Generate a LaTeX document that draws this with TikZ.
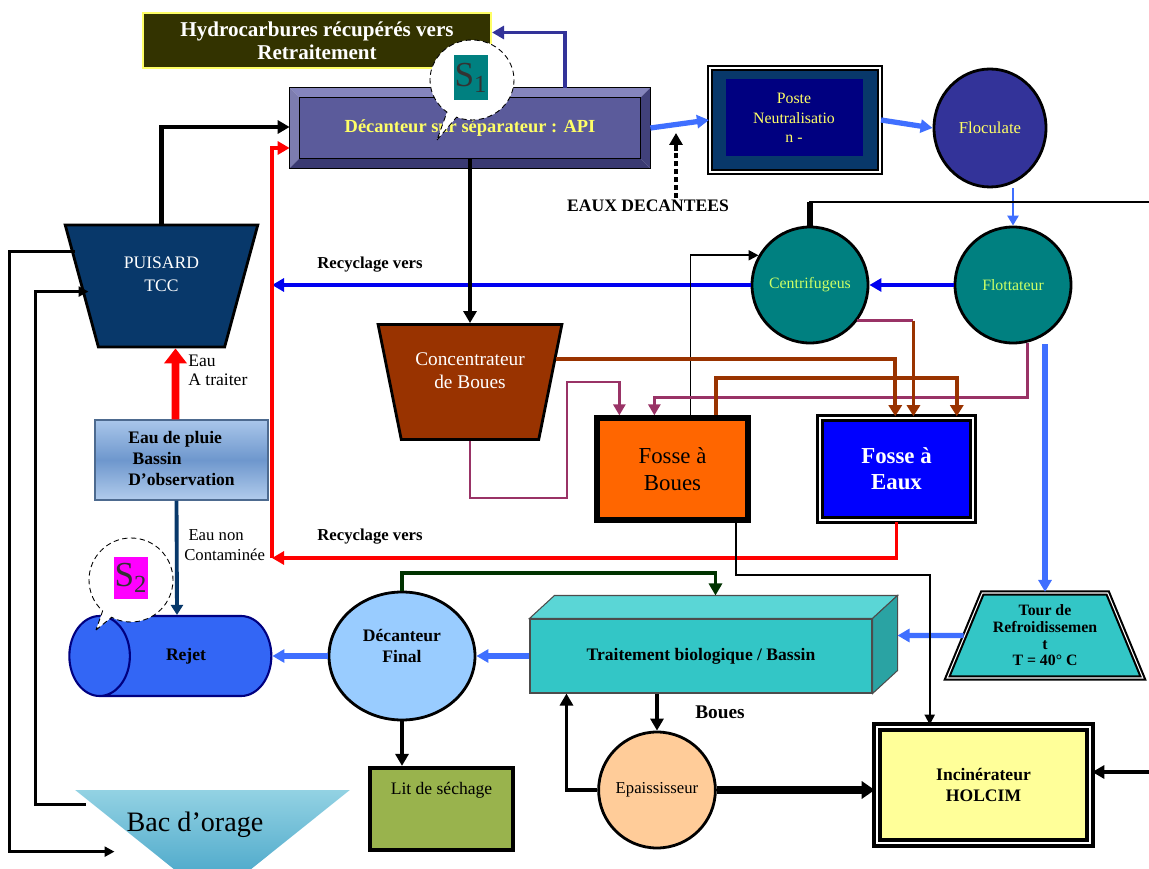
\documentclass[tikz,border=0pt]{standalone}
\usepackage{fontspec}
\setmainfont{Liberation Serif}
\usepackage{tikz}
\usetikzlibrary{positioning,calc,arrows.meta,shapes.geometric,shapes.callouts,shadows}
\definecolor{olivenoir}{HTML}{333300}
\definecolor{jaunepale}{HTML}{FFFF66}
\definecolor{ardoise}{HTML}{5B5B9B}
\definecolor{ardoiseclair}{HTML}{8585BD}
\definecolor{ardoisefonce}{HTML}{3A3A72}
\definecolor{encre}{HTML}{333399}
\definecolor{bleuvif}{HTML}{3F6FFF}
\definecolor{bleupur}{HTML}{0000F0}
\definecolor{nuit}{HTML}{08386A}
\definecolor{marine}{HTML}{000080}
\definecolor{sarcelle}{HTML}{008080}
\definecolor{citron}{HTML}{CCFF66}
\definecolor{brique}{HTML}{993300}
\definecolor{prune}{HTML}{993366}
\definecolor{orangevif}{HTML}{FF6600}
\definecolor{cielA}{HTML}{A9C6EA}
\definecolor{cielB}{HTML}{6E97CD}
\definecolor{rejetbleu}{HTML}{3366F5}
\definecolor{azur}{HTML}{99CCFF}
\definecolor{turquoise}{HTML}{33C6C6}
\definecolor{turqclair}{HTML}{5AD6D6}
\definecolor{turqfonce}{HTML}{2AA3A3}
\definecolor{foret}{HTML}{003300}
\definecolor{peche}{HTML}{FFCC99}
\definecolor{paille}{HTML}{FFFF99}
\definecolor{mousse}{HTML}{99B34D}
\definecolor{lagonA}{HTML}{93D2E3}
\definecolor{lagonB}{HTML}{3B9EC4}
\definecolor{rose}{HTML}{FF00FF}

\begin{document}
\begin{tikzpicture}[x=0.2mm, y=-0.2mm,
  box/.style={inner sep=0pt, align=center},
  disc/.style={ellipse, draw=black, line width=1.6pt, inner sep=0pt, align=center},
  trap/.style={trapezium, trapezium stretches=true, draw=black, inner sep=0pt, align=center},
  bulle/.style={ellipse callout, draw=black, densely dashed, fill=white, line width=0.5pt},
  etiq/.style={inner sep=1pt, font=\bfseries\fontsize{9.5}{11}\selectfont},
  tip/.style={-{Triangle[length=2.4mm,width=2.6mm]}},
  lb/.style={tip, line width=3pt, bleuvif},
  db/.style={tip, line width=2.6pt, bleupur},
  noir/.style={tip, line width=2.2pt, black},
  fin/.style={-{Triangle[length=2mm,width=2mm]}, line width=1.1pt, black},
  rouge/.style={tip, line width=2.2pt, red},
  violet/.style={-{Triangle[length=2.2mm,width=2.4mm]}, line width=1.6pt, prune},
  brun/.style={-{Triangle[length=2.2mm,width=2.6mm]}, line width=2.2pt, brique},
]
\useasboundingbox (0,0) rectangle (1149,869);

% --- top row
\node[box, fill=olivenoir, draw=jaunepale, line width=1.2pt, minimum width=69.6mm, minimum height=11mm,
      text=white, font=\bfseries\fontsize{12}{13}\selectfont] (hydro) at (317,40.5)
   {Hydrocarbures récupérés vers\\Retraitement};
\node[box, fill=ardoise, minimum width=68mm, minimum height=12mm, text=jaunepale,
      font=\bfseries\fontsize{10.5}{12}\selectfont] (api) at (470,128)
   {Décanteur sur séparateur : API};
\fill[ardoiseclair] ($(api.north west)+(-10,-10)$) -- ($(api.north east)+(10,-10)$) -- (api.north east) -- (api.north west) -- cycle;
\fill[ardoise!80!white] ($(api.north west)+(-10,-10)$) -- (api.north west) -- (api.south west) -- ($(api.south west)+(-10,10)$) -- cycle;
\fill[ardoisefonce] ($(api.south west)+(-10,10)$) -- (api.south west) -- (api.south east) -- ($(api.south east)+(10,10)$) -- cycle;
\fill[ardoisefonce!80!ardoise] ($(api.north east)+(10,-10)$) -- (api.north east) -- (api.south east) -- ($(api.south east)+(10,10)$) -- cycle;
\draw[black, line width=0.8pt] ($(api.north west)+(-10,-10)$) rectangle ($(api.south east)+(10,10)$);
\draw[black, line width=0.5pt] (api.north west) rectangle (api.south east);

\node[box, fill=nuit, draw=black, line width=1.2pt, double=white, double distance=0.6pt,
      minimum width=34mm, minimum height=20.8mm] (poste) at (795,120) {};
\node[box, fill=marine, minimum width=27.4mm, minimum height=15.4mm, text=jaunepale,
      font=\fontsize{9}{11}\selectfont] (postein) at (794,118) {Poste\\Neutralisatio\\n -};
\node[disc, fill=encre, minimum width=22.4mm, minimum height=23.6mm, text=jaunepale,
      font=\fontsize{9.5}{11}\selectfont] (floc) at (990,128) {Floculate};

\node[etiq, font=\bfseries\fontsize{10}{11}\selectfont] (eaux) at (648,206) {EAUX DECANTEES};

% --- middle
\node[disc, fill=sarcelle, minimum size=23.2mm, text=citron, font=\fontsize{9}{11}\selectfont] (centri) at (810,285) {Centrifugeus};
\node[disc, fill=sarcelle, minimum size=23.2mm, text=citron, font=\fontsize{9}{11}\selectfont] (flot) at (1013,285) {Flottateur};

\node[trap, shape border rotate=180, trapezium angle=71, fill=nuit, line width=1.6pt,
      minimum width=38.6mm, minimum height=24.4mm, text=white, font=\fontsize{10}{13}\selectfont] (puis) at (161.5,286)
   {PUISARD\\TCC\\~};
\node[trap, shape border rotate=180, trapezium angle=72.5, fill=brique, line width=1.6pt,
      minimum width=36.8mm, minimum height=23mm, text=white, font=\fontsize{11}{13}\selectfont] (conc) at (470,382)
   {Concentrateur\\de Boues\\~};

\node[box, fill=orangevif, draw=black, line width=3pt, minimum width=30.2mm, minimum height=20.4mm,
      font=\fontsize{13}{15}\selectfont] (fb) at (672.5,469) {Fosse à\\Boues};
\node[box, fill=blue, draw=black, line width=2pt, double=white, double distance=0.6pt, minimum width=30.6mm,
      minimum height=20.4mm, text=white, font=\bfseries\fontsize{13}{15}\selectfont] (fe) at (896.5,469) {Fosse à\\Eaux};

\node[box, top color=cielA, bottom color=cielA!90!white, middle color=cielB, draw=cielB!70!black, line width=0.6pt,
      minimum width=34.6mm, minimum height=16mm, font=\bfseries\fontsize{10}{12}\selectfont] (ep) at (181.5,460)
   {\begin{tabular}{@{}l@{}}Eau de pluie\\ \ Bassin\\ D'observation\end{tabular}};

\node[etiq] (recyclA) at (370,265) {Recyclage vers};
\node[etiq] (recyclB) at (370,537) {Recyclage vers};
\node[inner sep=0pt, anchor=west, align=left, font=\fontsize{10}{11}\selectfont] (aTraiter) at (188,370) {Eau\\ A traiter};
\node[inner sep=0pt, anchor=west, align=left, font=\fontsize{9.5}{11}\selectfont] (nonCont) at (184,545) {\ Eau non\\Contaminée};

% --- bottom
\node[cylinder, shape border rotate=180, aspect=3.8, draw=marine, line width=1.2pt, cylinder uses custom fill,
      cylinder body fill=rejetbleu, cylinder end fill=rejetbleu, minimum width=16mm, minimum height=40.4mm,
      inner sep=0pt, font=\bfseries\fontsize{10}{12}\selectfont] (rejet) at (186,656) {Rejet};
\node[disc, fill=azur, minimum width=29.2mm, minimum height=25.6mm, font=\bfseries\fontsize{10}{12}\selectfont] (decf) at (402,656)
   {Décanteur\\Final\\~};
\node[box, fill=turquoise, draw=black!70, line width=.6pt, minimum width=68.4mm, minimum height=14.8mm,
      font=\bfseries\fontsize{10}{12}\selectfont] (trait) at (701,656) {Traitement biologique / Bassin};
\filldraw[fill=turqclair, draw=black!70, line width=.6pt] (trait.north west) -- ++(25,-23) -- ($(trait.north east)+(25,-23)$) -- (trait.north east) -- cycle;
\filldraw[fill=turqfonce, draw=black!70, line width=.6pt] (trait.north east) -- ++(25,-23) -- ($(trait.south east)+(25,-23)$) -- (trait.south east) -- cycle;
\node[trap, trapezium angle=64.5, fill=turquoise, line width=1.2pt, double=white, double distance=0.6pt,
      minimum width=39.2mm, minimum height=17mm, font=\bfseries\fontsize{9}{9.5}\selectfont] (tour) at (1045,635.5)
   {Tour de\\Refroidissemen\\t\\T = 40° C};
\node[disc, fill=peche, minimum width=23mm, minimum height=23.2mm, font=\fontsize{9.5}{11}\selectfont] (epa) at (657,790) {Epaississeur};
\node[box, fill=paille, draw=black, line width=2.6pt, double=white, double distance=0.6pt, minimum width=42.6mm,
      minimum height=23.2mm, font=\bfseries\fontsize{10}{12}\selectfont] (incin) at (983.5,785) {Incinérateur\\HOLCIM};
\node[box, fill=mousse, draw=black, line width=2.4pt, minimum width=28.6mm, minimum height=16.4mm,
      drop shadow={shadow xshift=1.2pt, shadow yshift=-1.2pt, fill=black!40}, font=\fontsize{10}{12}\selectfont] (lit) at (441.5,809)
   {Lit de séchage\\~\\~};
\node[trap, trapezium angle=56.6, shape border rotate=180, draw=none, top color=lagonA, bottom color=lagonB,
      minimum width=55mm, minimum height=22mm] (bac) at (212.5,845) {\strut};
\node[inner sep=0pt, font=\fontsize{16}{18}\selectfont] (bactext) at (195,825) {Bac d'orage};
\node[etiq, font=\bfseries\fontsize{11}{12}\selectfont] (boues) at (720,712) {Boues};

% --- connectors
\draw[tip, line width=2pt, encre] ($(api.north)+(95,-10)$) |- ($(hydro.east)+(0,-8)$);
\draw[lb] ($(api.east)+(10,0)$) -- (poste.west);
\coordinate (eauxtip) at (676,133);
\draw[tip, line width=2pt, dash pattern=on 3pt off 1.5pt] ($(eaux.north)+(28,0)$) -- (eauxtip);
\draw[lb] (poste.east) -- (floc.west);
\draw[-{Triangle[length=2mm,width=2.2mm]}, line width=1.4pt, bleuvif] (flot.north |- floc.south) -- (flot.north);
\coordinate (bordA) at (1149,202);
\draw[line width=1.4pt] (centri.north) |- (bordA);
\draw[line width=3pt] (centri.north) -- ++(0,-24);
\draw[db] (flot.west) -- (centri.east);
\coordinate (recA) at (272,285);
\draw[db] (centri.west) -- (recA);
\draw[fin] ($(fb.north)+(18,0)$) |- (centri.150);
\draw[noir] (api.south) -- (conc.north);
\draw[violet] (conc.south) -- ++(0,57) -| ++(97,-116) -| ($(fb.north west)+(25,0)$);
\draw[violet] (flot.-76) -- ++(0,55) -| ($(fb.north west)+(60,0)$);
\draw[violet, -] (centri.-37) -- ++(56,0) coordinate (cfe);
\draw[brun] (cfe) -- (cfe |- fe.north);
\draw[brun] (conc.15) -| ($(fe.north west)+(77,0)$);
\draw[brun] ($(fb.north east)+(-35,0)$) -- ++(0,-37) -| ($(fe.north east)+(-18,0)$);
\draw[lb, line width=3.4pt] (tour.north |- flot.south) -- (tour.north);
\draw[noir, line width=2.6pt] (puis.north) |- ($(api.west)+(-10,-1)$);
\coordinate (recB) at (272,558);
\draw[rouge] (fe.south) |- (recB);
\draw[rouge] (recB) |- ($(api.west)+(-10,20)$);
\draw[-{Triangle[length=3mm,width=4.4mm]}, line width=4.4pt, red] ($(ep.north)+(-6,0)$) -- ($(puis.south)+(14,0)$);
\draw[-{Triangle[length=2mm,width=2.4mm]}, line width=2.2pt, nuit] ($(ep.south)+(-5,0)$) -- ($(rejet.north)+(-9,0)$);
\draw[fin, line width=1.4pt] ($(puis.north)+(-87,28)$) -- ++(-65,0) |- ($(bac.north)+(-98,62)$);
\draw[fin, line width=1.4pt] ($(bac.north)+(-127,15)$) -- ++(-50,0) |- ($(puis.north)+(-73,68)$);
\draw[lb] (decf.west) -- (rejet.east);
\draw[lb] (trait.west) -- (decf.east);
\draw[tip, line width=2.2pt, foret] (decf.north) -- ++(0,-18) -| ($(trait.north west)+(186,-23)$);
\draw[lb] (tour.west) -- ($(trait.east)+(25,-20.5)$);
\draw[noir, line width=1.8pt] (epa.north |- trait.south) -- (epa.north);
\draw[noir, line width=1.8pt] (epa.west) -| ($(trait.south west)+(37,0)$);
\draw[-{Triangle[length=2.6mm,width=3.4mm]}, line width=5pt] (epa.east) -- (epa.east -| incin.west);
\coordinate (bordB) at (1149,772);
\draw[noir, line width=1.8pt] (bordB) -- (bordB -| incin.east);
\draw[fin] ($(fb.south east)+(-15,0)$) -- ++(0,52) -| ($(incin.north west)+(55,0)$);
\draw[noir, line width=1.8pt] (decf.south) -- (decf.south |- lit.north);

% --- speech bubbles
\node[bulle, minimum width=16.8mm, minimum height=16mm, callout absolute pointer={(437,140)}] (s1) at (472,80) {};
\node[box, fill=sarcelle, minimum width=6.8mm, minimum height=9mm, text=black!80,
      font=\fontsize{20}{20}\selectfont] (s1tag) at (471,78) {S\textsubscript{1}};
\node[bulle, minimum width=16.8mm, minimum height=16.8mm, callout absolute pointer={(96,630)}] (s2) at (131,580) {};
\node[box, fill=rose, minimum width=6.8mm, minimum height=8.4mm, text=black!80,
      font=\fontsize{20}{20}\selectfont] (s2tag) at (131,578) {S\textsubscript{2}};
\end{tikzpicture}
\end{document}
